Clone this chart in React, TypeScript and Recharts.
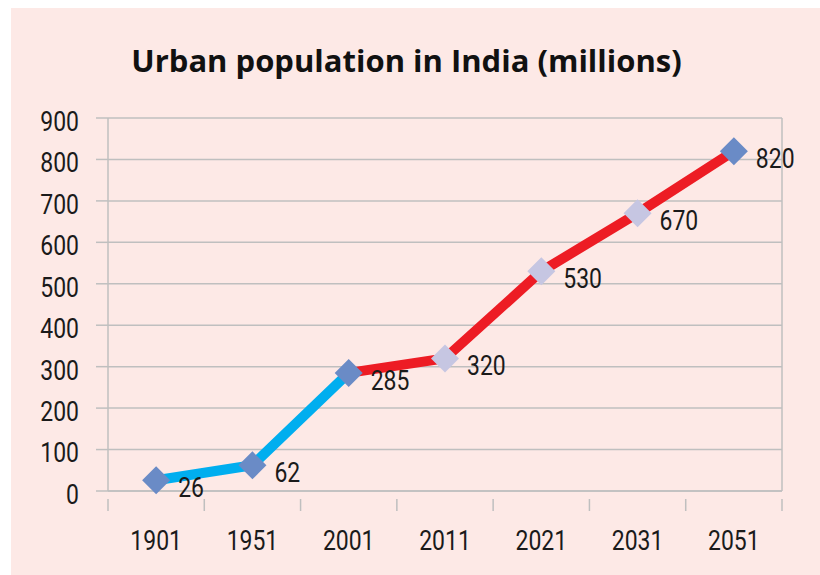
import { LineChart, Line, XAxis, YAxis, CartesianGrid, ReferenceLine, LabelList } from "recharts";

const years = ["1901", "1951", "2001", "2011", "2021", "2031", "2051"];
const population = [26, 62, 285, 320, 530, 670, 820];
// index where the line switches from blue (past) to red (projection)
const splitIndex = 2;
const markerShade = ["dark", "dark", "dark", "light", "light", "light", "dark"];
const yTicks = [0, 100, 200, 300, 400, 500, 600, 700, 800, 900];

const FONT = "Roboto, 'Liberation Sans', sans-serif";
const SQUEEZE = 0.82; // reference uses a condensed face
const GRID = "#bfbfbf";

const data = years.map((year, i) => ({
  pos: i + 0.5,
  year,
  value: population[i],
  past: i <= splitIndex ? population[i] : null,
  future: i >= splitIndex ? population[i] : null,
  shade: markerShade[i],
}));

// labels sit in the middle of each category, tick marks on the boundaries
const xTicks: number[] = [];
for (let i = 0; i <= years.length; i++) {
  xTicks.push(i);
  if (i < years.length) xTicks.push(i + 0.5);
}

function Narrow({ x, y, anchor, children }: any) {
  return (
    <text
      transform={`translate(${x},${y}) scale(${SQUEEZE},1)`}
      textAnchor={anchor}
      dominantBaseline="central"
      fill="#1a1a1a"
      fontSize={28}
      fontFamily={FONT}
    >
      {children}
    </text>
  );
}

function XTick(props: any) {
  const { x, y, payload } = props;
  const v = payload.value as number;
  if (Number.isInteger(v)) {
    return <line x1={x} y1={y} x2={x} y2={y + 12} stroke={GRID} strokeWidth={1.5} />;
  }
  return (
    <Narrow x={x} y={y + 41} anchor="middle">
      {years[Math.floor(v)]}
    </Narrow>
  );
}

function YTick(props: any) {
  const { x, y, payload } = props;
  return (
    <Narrow x={x} y={y + 3} anchor="end">
      {payload.value}
    </Narrow>
  );
}

function Diamond(props: any) {
  const { cx, cy, payload } = props;
  if (cx == null || cy == null) return null;
  const r = 14;
  const fill = payload.shade === "dark" ? "#6a8bc6" : "#c6c6e2";
  return <polygon points={`${cx},${cy - r} ${cx + r},${cy} ${cx},${cy + r} ${cx - r},${cy}`} fill={fill} />;
}

function ValueLabel(props: any) {
  const { x, y, value } = props;
  return (
    <Narrow x={x + 22} y={y + 7} anchor="start">
      {value}
    </Narrow>
  );
}

export default function App() {
  return (
    <div style={{ position: "absolute", left: 11, top: 8, width: 809, height: 567, background: "#fde9e6" }}>
      <div
        style={{
          position: "absolute",
          left: 0,
          top: 34,
          width: 791,
          textAlign: "center",
          fontFamily: "'Open Sans', sans-serif",
          fontWeight: 700,
          fontSize: 31,
          lineHeight: "36px",
          color: "#111",
        }}
      >
        Urban population in India (millions)
      </div>
      <LineChart width={809} height={567} data={data} margin={{ top: 110, right: 38, left: 0, bottom: 24 }}>
        <CartesianGrid vertical={false} stroke={GRID} strokeWidth={1.5} />
        <XAxis
          type="number"
          dataKey="pos"
          domain={[0, years.length]}
          ticks={xTicks}
          interval={0}
          tick={<XTick />}
          tickLine={false}
          axisLine={{ stroke: GRID, strokeWidth: 1.5 }}
          height={60}
        />
        <YAxis
          domain={[0, 900]}
          ticks={yTicks}
          interval={0}
          width={97}
          tick={<YTick />}
          tickSize={12}
          tickMargin={17}
          tickLine={{ stroke: GRID, strokeWidth: 1.5 }}
          axisLine={{ stroke: GRID, strokeWidth: 1.5 }}
        />
        <ReferenceLine x={years.length} stroke={GRID} strokeWidth={1.5} />
        <Line dataKey="past" stroke="#00aeef" strokeWidth={10} dot={false} isAnimationActive={false} connectNulls={false} />
        <Line dataKey="future" stroke="#ed1c24" strokeWidth={10} dot={false} isAnimationActive={false} connectNulls={false} />
        <Line dataKey="value" stroke="none" dot={<Diamond />} activeDot={false} isAnimationActive={false}>
          <LabelList dataKey="value" content={<ValueLabel />} />
        </Line>
      </LineChart>
    </div>
  );
}
